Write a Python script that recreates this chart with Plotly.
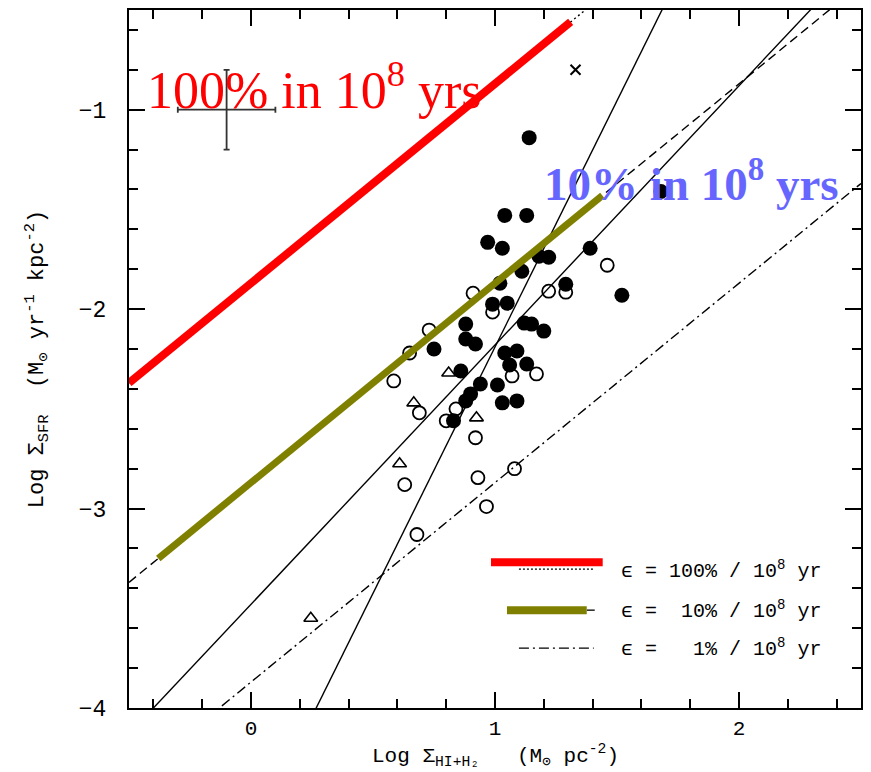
import numpy as np
import plotly.graph_objects as go

# ---- galaxy measurements: log gas surface density vs log SFR surface density ----
filled_x = [1.14, 1.68, 1.04, 1.13, 0.97, 1.03, 1.39, 1.18, 1.22, 1.11, 1.02, 1.29,
            1.52, 0.99, 1.05, 0.88, 1.12, 1.15, 1.20, 0.88, 0.92, 0.75, 1.04, 1.09,
            1.06, 1.13, 0.86, 0.94, 1.01, 0.90, 0.88, 1.03, 1.09, 0.83]
filled_y = [-1.14, -1.41, -1.53, -1.53, -1.665, -1.695, -1.695, -1.735, -1.74, -1.81,
            -1.87, -1.875, -1.93, -1.975, -1.97, -2.075, -2.07, -2.075, -2.11, -2.15,
            -2.175, -2.20, -2.22, -2.21, -2.28, -2.275, -2.31, -2.375, -2.38, -2.425,
            -2.46, -2.47, -2.46, -2.56]

open_x = [1.46, 1.22, 1.29, 0.91, 0.99, 0.73, 0.65, 0.585, 1.07, 1.17, 0.69, 0.84,
          0.80, 0.92, 1.08, 0.93, 0.63, 0.965, 0.68]
open_y = [-1.78, -1.91, -1.915, -1.92, -2.015, -2.105, -2.22, -2.36, -2.335, -2.325,
          -2.52, -2.50, -2.56, -2.645, -2.80, -2.845, -2.88, -2.99, -3.13]

tri_x = [0.81, 0.667, 0.924, 0.609, 0.245]
tri_y = [-2.32, -2.47, -2.545, -2.775, -3.55]

cross_x = [1.33]
cross_y = [-0.80]

# typical uncertainty
err_x = [-0.10]
err_y = [-1.00]
err_dx = 0.20
err_dy = 0.20

# constant star-formation efficiency: log SFR = log gas + offset
eff_labels = ["100%", "10%", "1%"]
eff_offsets = [-1.87, -2.87, -3.87]
eff_dash = ["2px,3px", "9px,5px", "10px,4px,2px,4px"]

# highlighted stretches of the 100% and 10% efficiency lines
red_seg_x = [-0.50, 1.31]
olive_seg_x = [-0.38, 1.44]

# power-law fits: slope, intercept
fit_slopes = [2.47, 1.30]
fit_intercepts = [-4.66, -3.48]

x_range = [-0.5, 2.5]
y_range = [-4.0, -0.5]
x_ticks = [0, 1, 2]
y_ticks = [-4, -3, -2, -1]

MONO = "Liberation Mono, Courier New, monospace"
SERIF = "Liberation Serif, Times New Roman, serif"

fig = go.Figure()
xx = np.array(x_range)

# thin efficiency lines
for off, dash in zip(eff_offsets, eff_dash):
    fig.add_trace(go.Scatter(x=xx, y=xx + off, mode="lines",
                             line=dict(color="black", width=1.4, dash=dash),
                             hoverinfo="skip"))

# fitted relations
for m, b in zip(fit_slopes, fit_intercepts):
    fig.add_trace(go.Scatter(x=xx, y=m * xx + b, mode="lines",
                             line=dict(color="black", width=1.4), hoverinfo="skip"))

# error cross
fig.add_trace(go.Scatter(x=err_x, y=err_y, mode="markers",
                         marker=dict(color="rgba(0,0,0,0)", size=1),
                         error_x=dict(type="constant", value=err_dx, thickness=1.8,
                                      width=3, color="#333333"),
                         error_y=dict(type="constant", value=err_dy, thickness=1.8,
                                      width=3, color="#333333")))

# data points
fig.add_trace(go.Scatter(x=open_x, y=open_y, mode="markers",
                         marker=dict(symbol="circle-open", size=13, color="black",
                                     line=dict(width=1.8))))
fig.add_trace(go.Scatter(x=tri_x, y=tri_y, mode="markers",
                         marker=dict(symbol="triangle-up-open", size=12, color="black",
                                     line=dict(width=1.6))))
fig.add_trace(go.Scatter(x=filled_x, y=filled_y, mode="markers",
                         marker=dict(symbol="circle", size=15, color="black",
                                     line=dict(width=0))))
fig.add_trace(go.Scatter(x=cross_x, y=cross_y, mode="markers",
                         marker=dict(symbol="x-thin-open", size=10, color="black",
                                     line=dict(width=2, color="black"))))

# highlighted efficiency segments
rx = np.array(red_seg_x)
fig.add_trace(go.Scatter(x=rx, y=rx + eff_offsets[0], mode="lines",
                         line=dict(color="#ff0000", width=8), hoverinfo="skip"))
ox = np.array(olive_seg_x)
fig.add_trace(go.Scatter(x=ox, y=ox + eff_offsets[1], mode="lines",
                         line=dict(color="#808000", width=7), hoverinfo="skip"))

axis_common = dict(
    showgrid=False, zeroline=False, showline=True, linecolor="black", linewidth=2,
    mirror="ticks", ticks="inside", ticklen=16, tickwidth=1.5, tickcolor="black",
)

fig.update_xaxes(range=x_range, tickvals=x_ticks,
                 tickfont=dict(family=MONO, size=21, color="black"),
                 minor=dict(dtick=0.2, tick0=0, ticks="inside", ticklen=9,
                            tickwidth=1.5, tickcolor="black", showgrid=False),
                 ticklabelstandoff=0, **axis_common)
fig.update_yaxes(range=y_range, tickvals=y_ticks,
                 tickfont=dict(family=MONO, size=23, color="black"),
                 minor=dict(dtick=0.2, tick0=0, ticks="inside", ticklen=9,
                            tickwidth=1.5, tickcolor="black", showgrid=False),
                 ticklabelstandoff=16, **axis_common)

# legend drawn by hand
def px(xp):
    return (xp - 129) / 734.0


def py(yp):
    return (708 - yp) / 699.0


shapes = [
    dict(type="line", xref="paper", yref="paper", x0=px(520), x1=px(595), y0=py(569), y1=py(569),
         line=dict(color="black", width=1.3, dash="2px,2px")),
    dict(type="line", xref="paper", yref="paper", x0=px(492), x1=px(604), y0=py(562), y1=py(562),
         line=dict(color="#ff0000", width=8)),
    dict(type="line", xref="paper", yref="paper", x0=px(588), x1=px(596), y0=py(610), y1=py(610),
         line=dict(color="black", width=1.3)),
    dict(type="line", xref="paper", yref="paper", x0=px(508), x1=px(588), y0=py(610), y1=py(610),
         line=dict(color="#808000", width=8)),
    dict(type="line", xref="paper", yref="paper", x0=px(520), x1=px(595), y0=py(648), y1=py(648),
         line=dict(color="black", width=1.4, dash="10px,4px,2px,4px")),
]

nb = "\u00a0"
legend_rows = [570, 610, 648]
annotations = []
for lab, yrow in zip(eff_labels, legend_rows):
    txt = f"\u03f5{nb}={nb}" + lab.rjust(4, nb) + f"{nb}/{nb}10<sup>8</sup>{nb}yr"
    annotations.append(dict(xref="paper", yref="paper", x=px(620), y=py(yrow),
                            xanchor="left", yanchor="middle", showarrow=False, text=txt,
                            font=dict(family=MONO, size=20, color="black")))

annotations += [
    dict(xref="paper", yref="paper", x=px(145), y=py(86), xanchor="left", yanchor="middle",
         showarrow=False, text="100% in 10<sup>8</sup> yrs",
         font=dict(family=SERIF, size=52, color="#ff0000")),
    dict(xref="paper", yref="paper", x=px(543), y=py(180), xanchor="left", yanchor="middle",
         showarrow=False, text="<b>10% in 10<sup>8</sup> yrs</b>",
         font=dict(family=SERIF, size=47, color="#6666ff")),
    dict(xref="paper", yref="paper", x=0.5, y=py(756), xanchor="center", yanchor="middle",
         showarrow=False,
         text=f"Log{nb}\u03a3<sub>HI+H\u2082</sub>{nb}{nb}{nb}(M<sub>\u2299</sub>{nb}pc<sup>-2</sup>)",
         font=dict(family=MONO, size=21, color="black")),
    dict(xref="paper", yref="paper", x=px(37), y=0.5, xanchor="center", yanchor="middle",
         showarrow=False, textangle=-90,
         text=f"Log{nb}\u03a3<sub>SFR</sub>{nb}{nb}(M<sub>\u2299</sub>{nb}yr<sup>-1</sup>{nb}kpc<sup>-2</sup>)",
         font=dict(family=MONO, size=22, color="black")),
]

fig.update_layout(
    width=871, height=772, autosize=False,
    margin=dict(l=129, r=8, t=9, b=64),
    paper_bgcolor="white", plot_bgcolor="white",
    showlegend=False, shapes=shapes, annotations=annotations,
)

fig.write_html("out.html")
